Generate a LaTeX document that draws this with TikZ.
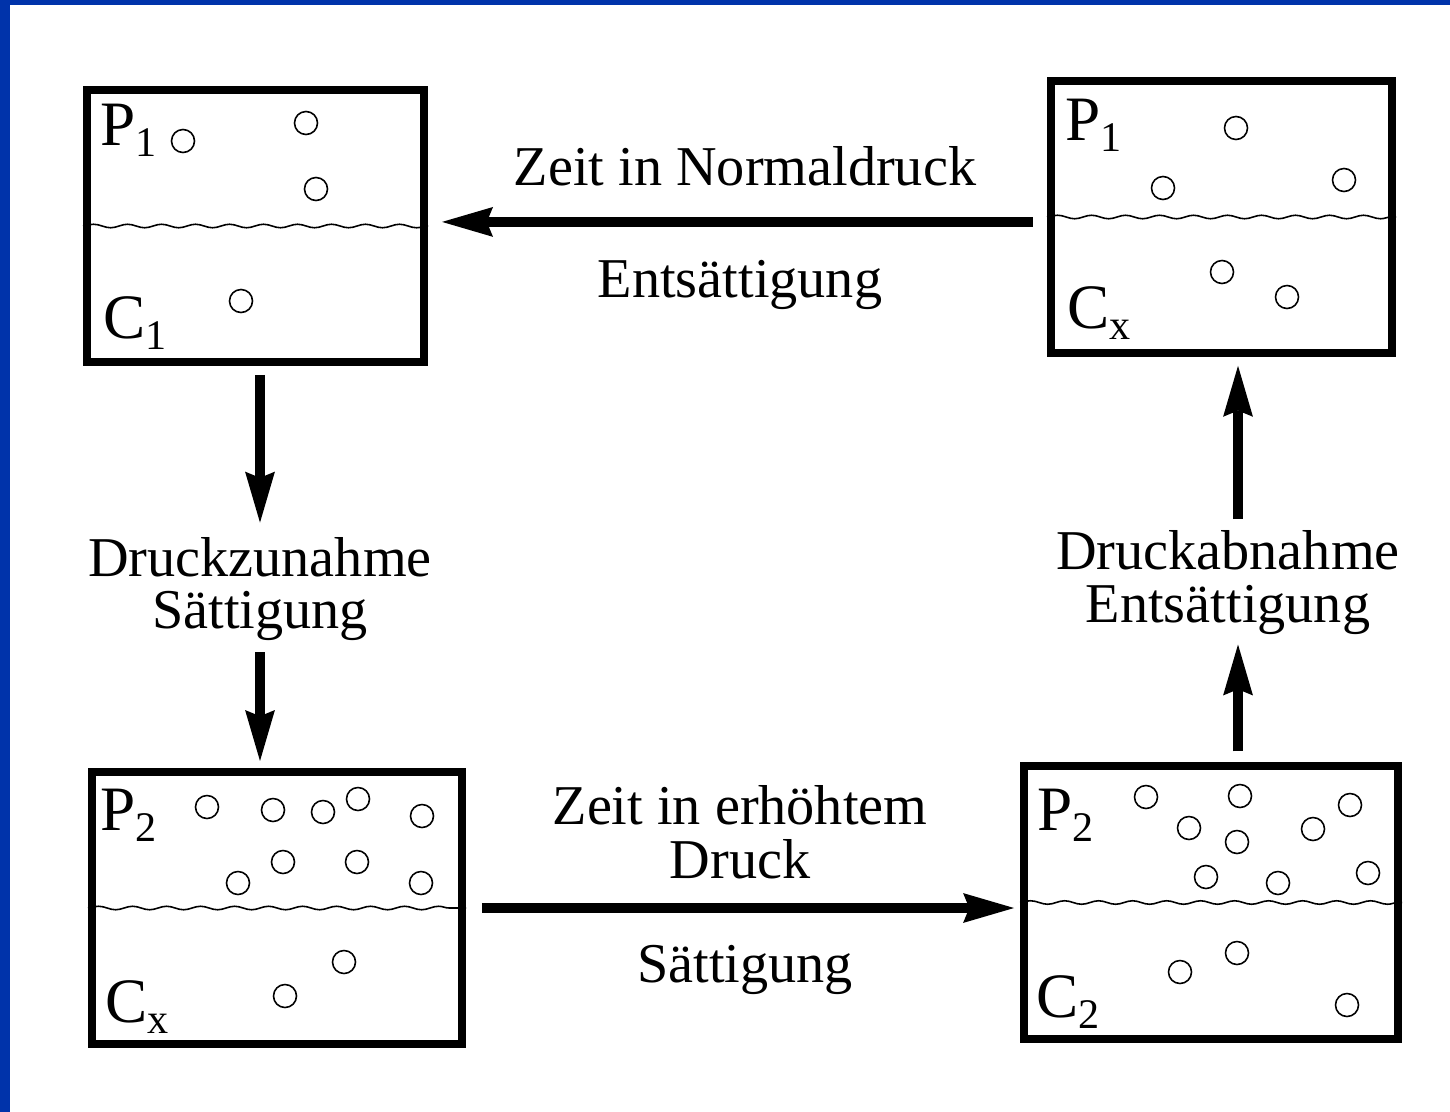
\documentclass[tikz,border=0pt]{standalone}
\usepackage{fontspec}
\setmainfont{Liberation Serif}
\usepackage{tikz}
\usetikzlibrary{arrows.meta}
\usetikzlibrary{positioning}
\usetikzlibrary{decorations.pathmorphing}
\definecolor{slideblue}{RGB}{0,51,170}
\tikzstyle{tank}=[draw,line width=4.6pt,inner sep=0pt]
\tikzstyle{wave}=[line width=0.9pt,decorate,decoration={snake,amplitude=0.035cm,segment length=0.68cm}]
\tikzstyle{bubble}=[line width=0.9pt]
\tikzstyle{tag}=[anchor=base west,inner sep=0pt,font=\fontsize{36}{40}\selectfont]
\tikzstyle{caption}=[anchor=base,inner sep=0pt,font=\fontsize{32}{38}\selectfont]
\tikzstyle{bigarrow}=[line width=5.6pt,-{Stealth[length=29pt,width=17pt,inset=3.5pt,line width=0pt]}]
\newcommand{\idx}[1]{\raisebox{-6.5pt}{\fontsize{24}{26}\selectfont #1}}

\begin{document}
\begin{tikzpicture}[x=0.02cm,y=-0.02cm]
% slide frame
\fill[slideblue] (0,0) rectangle (1450,1112);
\fill[white] (10,5) rectangle (1450,1112);
\useasboundingbox (0,0) rectangle (1450,1112);

% the four tanks
\node[tank,minimum width=6.74cm,minimum height=5.44cm] (b1) at (255.5,226) {};
\node[tank,minimum width=6.82cm,minimum height=5.44cm] (b2) at (1221.5,217) {};
\node[tank,minimum width=7.40cm,minimum height=5.44cm] (b3) at (277,908) {};
\node[tank,minimum width=7.48cm,minimum height=5.46cm] (b4) at (1211,902.5) {};
\foreach \b in {b1,b2,b3,b4}
  \draw[wave] (\b.west) -- (\b.east);

% gas bubbles
\foreach \x/\y in {183/141,306/123,316/189,241/301}
  \draw[bubble] (\x,\y) circle (11.5);
\foreach \x/\y in {1236/128,1163/188,1344/180,1222/272,1287/297}
  \draw[bubble] (\x,\y) circle (11.5);
\foreach \x/\y in {207/807,273/810,323/812,358/799,422/816,238/883,283/862,357/862,421/883,344/962,285/996}
  \draw[bubble] (\x,\y) circle (11.5);
\foreach \x/\y in {1146/797,1240/796,1350/805,1189/828,1237/842,1313/829,1206/877,1278/883,1368/873,1237/953,1180/972,1347/1005}
  \draw[bubble] (\x,\y) circle (11.5);

% pressure and concentration
\node[tag] (p1) at (100,145) {P\idx{1}};
\node[tag] (c1) at (103,338) {C\idx{1}};
\node[tag] (p1b) at (1065,140) {P\idx{1}};
\node[tag] (cx) at (1067,328) {C\idx{x}};
\node[tag] (p2) at (100,830) {P\idx{2}};
\node[tag] (cxb) at (105,1022) {C\idx{x}};
\node[tag] (p2b) at (1037,830) {P\idx{2}};
\node[tag] (c2) at (1036,1017) {C\idx{2}};

% captions
\node[caption] (zn) at (745,185) {Zeit in Normaldruck};
\node[caption] (es) at (740,297) {Entsättigung};
\node[caption] (dz1) at (260,576) {Druckzunahme};
\node[caption] (dz2) at (260,628) {Sättigung};
\node[caption] (da1) at (1228,569) {Druckabnahme};
\node[caption] (da2) at (1228,622) {Entsättigung};
\node[caption] (ze1) at (740,824) {Zeit in erhöhtem};
\node[caption] (ze2) at (740,878) {Druck};
\node[caption] (st) at (745,982) {Sättigung};

% cycle arrows
\coordinate (A) at ([yshift=-2.8pt]b2.west);
\draw[bigarrow,shorten <=8pt,shorten >=8pt] (A) -- (A -| b1.east);
\draw[bigarrow,shorten <=5pt,shorten >=8pt] (b1.south -| dz1.north) -- (dz1.north);
\draw[bigarrow,shorten <=6.6pt,shorten >=4pt] (dz2.south) -- (dz2.south |- b3.north);
\draw[bigarrow,shorten <=9pt,shorten >=3.4pt] (b3.east) -- (b3.east -| b4.west);
\coordinate (B) at ([xshift=5.7pt]da2.south);
\coordinate (C) at ([xshift=5.7pt]da1.north);
\draw[bigarrow,shorten <=6pt,shorten >=5.7pt] (B |- b4.north) -- (B);
\draw[bigarrow,shorten <=6pt,shorten >=5pt] (C) -- (C |- b2.south);
\end{tikzpicture}
\end{document}
